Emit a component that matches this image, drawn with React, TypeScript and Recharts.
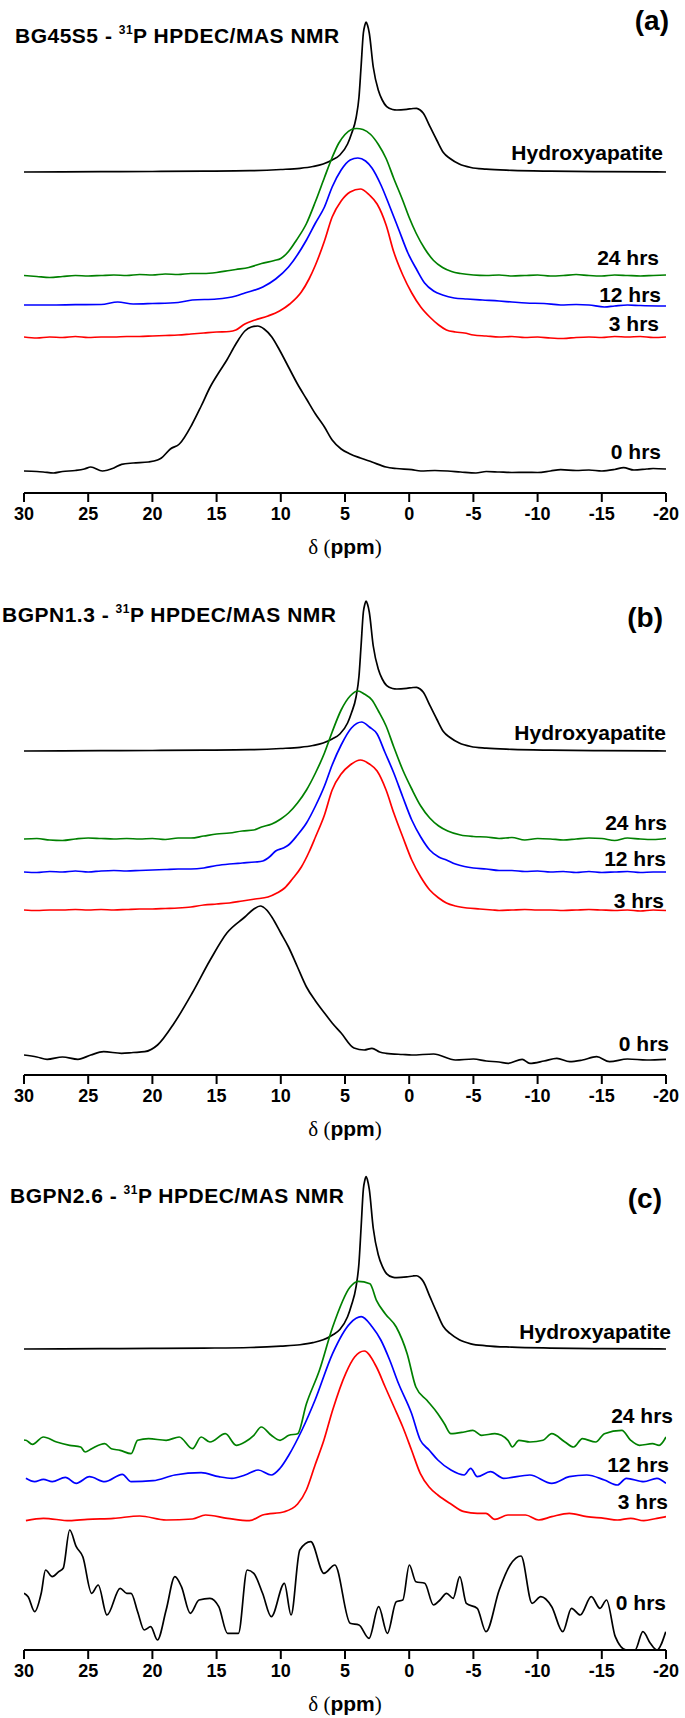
import { LineChart, Line, XAxis, YAxis } from 'recharts';

type Pt = [number, number]; // [ppm, intensity]

const ppmTicks = [30, 25, 20, 15, 10, 5, 0, -5, -10, -15, -20];
const panelTags = ['(a)', '(b)', '(c)'];
const sampleNames = ['BG45S5', 'BGPN1.3', 'BGPN2.6'];
const traceLabels = ['Hydroxyapatite', '24 hrs', '12 hrs', '3 hrs', '0 hrs'];

// reference hydroxyapatite spectrum (same in all three panels)
const hydroxyapatite: Pt[] = [
  [30, 0], [24, 0.3], [20, 0.5], [16, 0.8], [12.4, 1.3], [10, 2.5], [8.5, 3.7], [7.5, 5.5], [6.7, 8],
  [6, 12], [5.4, 17], [4.8, 28], [4.5, 38], [4.14, 54], [3.91, 75], [3.75, 105], [3.57, 139],
  [3.45, 147], [3.36, 150], [3.25, 147], [3.11, 139], [2.8, 105], [2.41, 82], [2.1, 72],
  [1.75, 65.3], [1.3, 62.5], [0.97, 62], [0.19, 62.7], [-0.3, 63.5], [-0.58, 63.7], [-0.85, 62],
  [-1.1, 58.7], [-1.62, 45.3], [-2.14, 32], [-2.66, 19.5], [-3.18, 13.5], [-3.9, 8], [-4.8, 4.5],
  [-6, 2.8], [-8, 1.6], [-11, 0.8], [-15, 0.3], [-20, 0],
];

// (a) BG45S5
const a24: Pt[] = [
  [30, 0], [29, -1], [28, -2], [27, -1], [26, 0], [25, -0.5], [24, 0], [23, 0.5], [22, 0], [21, 1],
  [20, 0.5], [19, 1.5], [18, 1], [17, 2], [16, 2], [15, 3], [14, 5], [13.5, 6], [12.5, 8], [11.5, 12],
  [10.5, 15], [10, 17], [9.4, 24], [8.8, 35], [8, 52], [7.3, 74], [6.6, 98], [6, 118], [5.5, 132],
  [5, 141], [4.5, 146], [4.1, 147], [3.6, 146], [3, 141], [2.4, 131], [1.8, 117], [1.2, 97],
  [0.5, 75], [0, 58], [-0.55, 42], [-1.2, 27], [-1.9, 15], [-2.6, 8], [-3.3, 4], [-4, 2], [-5, 0.5],
  [-6, 0], [-7, 0.5], [-8, -0.5], [-9, 0], [-10, 0.5], [-11, -0.5], [-12, 0], [-13, 1], [-14, 0],
  [-15, -0.5], [-16, 0.5], [-17, 0], [-18, -0.5], [-19, 0], [-20, 0.5],
];
const a12: Pt[] = [
  [30, 0], [28, 0], [26, 0.3], [24, 0.5], [22.7, 3], [21.5, 1], [20, 1.5], [18, 2.5], [16.9, 5],
  [15, 6], [13.5, 9], [12.8, 12], [11.4, 18], [10.4, 26], [9.4, 38], [8, 65], [7.3, 82], [6.6, 98],
  [6, 118], [5.3, 135], [4.6, 145], [4, 147], [3.4, 144], [2.9, 137], [2.2, 120], [1.5, 98],
  [0.8, 75], [0.1, 52], [-0.6, 35], [-1.2, 22], [-1.9, 14], [-2.6, 10], [-3.5, 7], [-4.5, 6],
  [-5.7, 5], [-7, 4], [-8, 3], [-9.1, 2], [-10.5, 1.5], [-11.8, 0], [-13, 0.5], [-14, 0],
  [-15.2, -2], [-16, -1], [-17, 0], [-18, -0.5], [-20, -1],
];
const a3: Pt[] = [
  [30, 0], [29, -1], [28, 0], [27, -0.5], [26, 0.5], [25, -0.5], [24, 0], [23, 0], [22, 0.5],
  [21, 0.5], [20, 1], [19, 1.5], [18, 2], [17, 3], [16, 4], [15, 5], [14, 5.5], [13.5, 7],
  [12.8, 13], [12, 17], [11, 21], [10.1, 26], [9.3, 33], [8.4, 45], [7.8, 58], [7.3, 72], [6.6, 96],
  [6, 120], [5.3, 136], [4.6, 145], [3.8, 148], [3.1, 142], [2.5, 133], [1.8, 112], [1.2, 85],
  [0.5, 62], [-0.2, 44], [-0.9, 30], [-1.6, 20], [-2.3, 12], [-2.9, 7], [-3.6, 5], [-4.3, 4],
  [-5, 2], [-6, 1], [-7, 0], [-8, 0.5], [-9, -0.5], [-10, 0], [-11, -1], [-12, -1.5], [-13, -0.5],
  [-14, 0], [-15, -0.5], [-16, 0.5], [-17, 0], [-18, 0.5], [-19, -0.5], [-20, 0],
];
const a0: Pt[] = [
  [30, 0], [29, -0.5], [28.5, -1], [27.7, -2], [27, -0.5], [26, 0.5], [25.3, 2], [24.8, 4],
  [23.9, 0], [23, 3], [22.4, 6.7], [21.5, 8], [20.3, 9], [19.6, 11], [19.3, 13], [18.6, 22],
  [17.9, 27], [16.9, 47], [16.2, 65], [15.5, 84], [14.8, 99], [14.2, 111], [13.5, 127], [12.8, 140],
  [12.3, 144], [11.8, 145], [11.3, 142], [10.7, 134], [10.1, 121], [9.4, 104], [8.7, 87], [8, 72],
  [7.3, 57], [6.6, 44], [6, 31], [5.3, 22], [4.6, 17], [3.8, 13], [2.9, 9], [1.8, 4], [1, 2.5],
  [-0.2, 1.3], [-0.9, 0], [-2, 0.5], [-3, 0], [-4, -1], [-5.2, -2], [-6, -0.5], [-7, -1],
  [-8, -1.5], [-9.1, -1.3], [-10, -1.5], [-11, 0], [-11.8, 1.3], [-13, 0.5], [-14, 1], [-15, 0],
  [-16, 1.5], [-16.7, 3.3], [-17.5, 1], [-18.5, 2], [-19, 2.5], [-20, 2],
];

// (b) BGPN1.3
const b24: Pt[] = [
  [30, 0], [29, 0.5], [28, -1], [27, -1.5], [26, 0], [25, 1], [24, 0.5], [23, 0], [22, 0.5], [21, 0],
  [20, 0.5], [19, -0.5], [18, 1], [17, 1], [16, 3], [15, 5], [14, 6], [13, 8], [12.1, 9], [11.5, 12],
  [10.7, 15], [10, 20], [9.4, 26], [8.7, 36], [8, 49], [7.3, 66], [6.6, 86], [6, 107], [5.3, 129],
  [4.6, 143], [4, 148], [3.5, 145], [2.9, 139], [2.4, 128], [1.8, 113], [1.2, 92], [0.5, 69],
  [-0.2, 50], [-0.9, 33], [-1.6, 21], [-2.3, 13], [-3, 8], [-4, 4], [-5, 2.5], [-6, 2], [-7, 0.5],
  [-8, 1.5], [-9, -1], [-10, 0.5], [-11, 0], [-12, -1], [-13, 0], [-14, 1], [-15, 0.5],
  [-16, -1.5], [-17, 1], [-18, 0], [-19, -0.5], [-20, 0.5],
];
const b12: Pt[] = [
  [30, 0], [29, -0.5], [28, 0.5], [27, 0], [26, 1], [25, 0], [24, 1], [23, 1.5], [22, 1], [21, 1.5],
  [20, 2], [19, 2.5], [18, 3], [17, 3], [16, 4], [15, 6.5], [14, 8], [13, 9], [12, 10], [11.4, 11],
  [10.8, 16], [10.4, 21], [9.8, 24], [9.4, 27], [8.7, 37], [8, 49], [7.3, 66], [6.6, 86], [6, 107],
  [5.3, 127], [4.5, 144], [3.7, 150], [3.1, 145], [2.5, 138], [1.9, 120], [1.2, 99], [0.5, 75],
  [-0.2, 52], [-0.9, 35], [-1.6, 22], [-2.3, 15], [-2.9, 12], [-3.6, 8], [-4.3, 5.5], [-5, 4],
  [-6, 3], [-7, 1.5], [-8, 1.5], [-9, 0.5], [-10, 1], [-11, 0], [-12, 0.5], [-13, -0.5],
  [-14, 0.5], [-15, -0.5], [-16, 0], [-17, 0.5], [-18, -0.5], [-19, 0], [-20, 0],
];
const b3: Pt[] = [
  [30, 0], [29, -0.5], [28, 0], [27, 0], [26, 0.5], [25, 0], [24, 0.5], [23, 0], [22, 0.5], [21, 1],
  [20, 1], [19, 1.5], [18, 2], [17, 3], [16, 5], [15, 6], [14, 7], [13, 9], [12, 11], [11, 13],
  [10.3, 17], [9.7, 22], [9.1, 31], [8.4, 43], [7.8, 58], [7.3, 73], [6.6, 95], [6, 120], [5.3, 136],
  [4.6, 145], [3.8, 150], [3.1, 146], [2.5, 139], [1.8, 120], [1.2, 97], [0.5, 73], [-0.2, 50],
  [-0.9, 33], [-1.6, 20], [-2.3, 12], [-2.9, 7], [-3.6, 4], [-4.5, 2], [-5.5, 1], [-6.5, 0],
  [-7, -0.5], [-8, 0], [-9, 0.5], [-10, 0], [-11, 0], [-12, -0.5], [-13, 0], [-14, 0.5], [-15, 0],
  [-16, -0.5], [-17, 0], [-18, -1], [-19, 0], [-20, -0.5],
];
const b0: Pt[] = [
  [30, 0], [29, -2], [28.2, -4.3], [27, -2], [25.8, -4.3], [24.8, 0], [23.8, 3.3], [22.4, 1.7],
  [21.5, 2.5], [20.6, 3.3], [19.6, 10], [18.3, 32], [16.9, 62], [15.5, 95], [14.2, 122], [12.8, 138],
  [12.1, 146], [11.6, 149], [11.1, 145], [10.7, 138], [10, 122], [9.4, 108], [8.7, 88], [8, 68],
  [7.3, 54], [6.6, 42], [6, 32], [5.3, 22], [4.3, 7], [3.5, 5], [2.9, 6.7], [2.3, 3], [1.8, 1.7],
  [0.5, 0.5], [-0.2, 0], [-1.9, 1], [-3.6, -5], [-5, -4], [-6, -6], [-7, -7], [-7.7, -8.3],
  [-8.8, -4.3], [-9.4, -8.3], [-10.5, -6], [-11.5, -3.3], [-12.5, -6.7], [-13.5, -5], [-14.6, -1.7],
  [-15.6, -6.7], [-17, -4], [-18.5, -5], [-20, -4.3],
];

// (c) BGPN2.6
const c24: Pt[] = [
  [30, 3], [29.85, 2.7], [29.34, -1.3], [28.49, 6], [27.46, 1], [26.44, -2.3], [25.59, -4],
  [25.24, -9], [24.73, -5.7], [23.71, -0.7], [23.2, -5.7], [22.51, -7.3], [21.66, -10.7],
  [21.15, 2.7], [20.3, 4.3], [18.93, 2.7], [17.91, 6], [16.88, -5.7], [16.2, 6], [15.52, 1],
  [14.32, 9.3], [13.47, -2.3], [12.79, 1], [12.1, 7.7], [11.52, 16], [10.74, 7.7], [10.06, 2.7],
  [9.37, 7.7], [8.69, 9.3], [8.01, 39], [6.99, 72.7], [5.96, 116], [4.6, 156], [3.98, 161.7],
  [3.06, 159.3], [2.55, 142.7], [1.87, 129.3], [1.01, 116], [0.16, 89.3], [-0.52, 56],
  [-1.38, 42.7], [-2.23, 29.3], [-2.74, 19.3], [-3.25, 9.3], [-4.28, 11], [-4.96, 12.7],
  [-5.64, 7.7], [-6.67, 9.3], [-7.69, 2.7], [-8.03, -4], [-8.54, 2.7], [-9.4, 1], [-10.42, 2.7],
  [-11.1, 9.3], [-12.13, 1], [-12.81, -4], [-13.49, 4.3], [-14.52, 1], [-15.2, 9.3], [-16.56, 12.7],
  [-17.25, 2.7], [-17.93, -2.3], [-18.95, -0.7], [-19.47, -2.3], [-20, 6],
];
const c12: Pt[] = [
  [29.85, 2.7], [29.17, -0.7], [28.49, 1.7], [27.8, -0.7], [26.78, 3.7], [25.93, -2.3], [24.9, 4.3],
  [23.71, -0.7], [22.34, 6.7], [21.66, -0.7], [19.95, 0.3], [18.25, 6], [16.2, 8.3], [14.83, 4.3],
  [13.81, 2.7], [12.79, 6], [11.76, 11], [10.74, 6], [10.06, 12.7], [9.37, 26], [8.35, 51],
  [7.33, 81], [5.96, 127.7], [4.6, 157.7], [3.74, 164.3], [2.89, 154.3], [2.21, 141], [1.52, 121],
  [0.84, 97.7], [-0.18, 67.7], [-0.86, 41], [-1.55, 31], [-2.23, 21], [-3.25, 11], [-4.28, 6],
  [-4.79, 12.7], [-5.3, 4.3], [-6.33, 9.3], [-7.35, 2.7], [-9.4, 6], [-11.1, -2.3], [-12.47, 4.3],
  [-13.83, 6], [-15.2, 1], [-16.22, -4], [-16.91, 2.7], [-18.27, -0.7], [-19.29, 2.7], [-20, -2.3],
];
const c3: Pt[] = [
  [29.85, -0.7], [28.49, 1.7], [26.44, -0.7], [25.07, 0.7], [23.03, 1.7], [20.98, 4], [18.93, 0],
  [16.88, 1], [15.86, 5], [14.15, 1.7], [12.45, -0.7], [11.42, 5], [9.72, 8.3], [8.69, 16],
  [8.01, 30], [7.33, 55], [6.64, 80], [5.96, 110], [4.94, 146.7], [4.25, 163], [3.5, 169],
  [2.55, 153], [1.87, 133], [1.18, 113], [0.5, 93], [-0.18, 70], [-0.86, 46.7], [-1.55, 33],
  [-2.23, 25], [-3.25, 16], [-4.28, 8.3], [-5.3, 6.7], [-5.98, 6.7], [-6.67, 0.7], [-7.69, 5],
  [-9.06, 5], [-10.08, 0], [-11.1, 3.3], [-12.47, 6.7], [-13.83, 3.3], [-15.2, 1.7], [-16.22, 0],
  [-17.25, 1.7], [-18.27, -0.7], [-19.29, 1.7], [-20, 3.3],
];
const c0: Pt[] = [
  [30, 56.7], [29.68, 53.3], [29.17, 38.3], [28.66, 56.7], [28.32, 80], [27.8, 73.3], [27.29, 78.3],
  [26.95, 81.7], [26.44, 120], [25.93, 103.3], [25.42, 93.3], [24.73, 56.7], [24.22, 65],
  [23.54, 35], [22.51, 61.7], [22, 56.7], [21.66, 56.7], [21.15, 38.3], [20.64, 20], [20.13, 23.3],
  [19.61, 10], [18.93, 40], [18.25, 73.3], [17.74, 63.3], [17.05, 36.7], [16.37, 50], [15.52, 51.7],
  [14.83, 43.3], [14.15, 16.7], [13.3, 16.7], [12.62, 80], [12.1, 76.7], [11.42, 56.7], [10.74, 33.3],
  [9.72, 66.7], [9.2, 35], [8.52, 100], [7.67, 108.3], [6.64, 76.7], [5.79, 85], [4.6, 26.7],
  [3.91, 25], [3.13, 11.7], [2.38, 43.3], [1.7, 16.7], [1.01, 48.3], [0.5, 50], [-0.01, 85],
  [-0.52, 68.3], [-1.21, 66.7], [-1.89, 45], [-2.4, 50], [-2.91, 56.7], [-3.42, 51.7], [-3.94, 73.3],
  [-4.45, 46.7], [-5.3, 41.7], [-5.98, 18.3], [-7.01, 60], [-7.86, 85], [-8.71, 94], [-9.57, 46.7],
  [-10.25, 53.3], [-11.1, 43.3], [-11.96, 18.3], [-12.64, 41.7], [-13.32, 35], [-14.18, 53.3],
  [-14.86, 41.7], [-15.37, 50], [-16.05, 13.3], [-16.91, 0], [-17.59, 0], [-18.2, 18.3],
  [-18.78, 6.7], [-19.29, 0], [-19.98, 18.3],
];

const COLORS = { black: '#000000', green: '#008000', blue: '#0000ff', red: '#ff0000' };
const SANS = "'Liberation Sans', Arial, Helvetica, sans-serif";
const SERIF = "'Liberation Serif', 'Times New Roman', serif";

interface Trace { pts: Pt[]; color: string; offset: number; scale?: number }
interface TextMark { text: string; right: number; cy: number }
interface Panel {
  top: number;
  axisY: number;
  titleX: number;
  titleY: number;
  tagRight: number;
  tagY: number;
  traces: Trace[];
  labels: TextMark[];
}

const panels: Panel[] = [
  {
    top: 0, axisY: 493, titleX: 15, titleY: 35, tagRight: 669, tagY: 20,
    traces: [
      { pts: hydroxyapatite, color: COLORS.black, offset: 321 },
      { pts: a24, color: COLORS.green, offset: 217.5 },
      { pts: a12, color: COLORS.blue, offset: 188 },
      { pts: a3, color: COLORS.red, offset: 156 },
      { pts: a0, color: COLORS.black, offset: 22 },
    ],
    labels: [
      { text: traceLabels[0], right: 663, cy: 152 },
      { text: traceLabels[1], right: 659, cy: 257 },
      { text: traceLabels[2], right: 661, cy: 294 },
      { text: traceLabels[3], right: 659, cy: 323 },
      { text: traceLabels[4], right: 661, cy: 451 },
    ],
  },
  {
    top: 580, axisY: 1075, titleX: 2, titleY: 614, tagRight: 663, tagY: 617,
    traces: [
      { pts: hydroxyapatite, color: COLORS.black, offset: 324 },
      { pts: b24, color: COLORS.green, offset: 236 },
      { pts: b12, color: COLORS.blue, offset: 203 },
      { pts: b3, color: COLORS.red, offset: 165 },
      { pts: b0, color: COLORS.black, offset: 20 },
    ],
    labels: [
      { text: traceLabels[0], right: 666, cy: 732 },
      { text: traceLabels[1], right: 667, cy: 822 },
      { text: traceLabels[2], right: 666, cy: 858 },
      { text: traceLabels[3], right: 664, cy: 900 },
      { text: traceLabels[4], right: 669, cy: 1043 },
    ],
  },
  {
    top: 1160, axisY: 1650, titleX: 10, titleY: 1195, tagRight: 662, tagY: 1198,
    traces: [
      { pts: hydroxyapatite, color: COLORS.black, offset: 301, scale: 1.15 },
      { pts: c24, color: COLORS.green, offset: 207 },
      { pts: c12, color: COLORS.blue, offset: 169 },
      { pts: c3, color: COLORS.red, offset: 130 },
      { pts: c0, color: COLORS.black, offset: 0 },
    ],
    labels: [
      { text: traceLabels[0], right: 671, cy: 1331 },
      { text: traceLabels[1], right: 673, cy: 1415 },
      { text: traceLabels[2], right: 669, cy: 1464 },
      { text: traceLabels[3], right: 668, cy: 1501 },
      { text: traceLabels[4], right: 666, cy: 1602 },
    ],
  },
];

const AXIS_H = 66;

function toSeries(t: Trace) {
  const k = t.scale ?? 1;
  return t.pts.map(([ppm, h]) => ({ ppm, v: t.offset + h * k }));
}

function SpectrumPanel({ panel }: { panel: Panel }) {
  const plotH = panel.axisY - panel.top;
  return (
    <div style={{ position: 'absolute', left: 0, top: panel.top }}>
      <LineChart width={685} height={plotH + AXIS_H} margin={{ top: 0, right: 19, bottom: 0, left: 24 }}>
        <XAxis
          type="number"
          dataKey="ppm"
          domain={[-20, 30]}
          reversed
          allowDataOverflow
          ticks={ppmTicks}
          interval={0}
          height={AXIS_H}
          tickSize={9}
          tickMargin={5}
          axisLine={{ stroke: '#000', strokeWidth: 2 }}
          tickLine={{ stroke: '#000', strokeWidth: 2 }}
          tick={{ fill: '#000', fontSize: 18, fontWeight: 'bold', fontFamily: SANS }}
        />
        <YAxis hide type="number" domain={[0, plotH]} allowDataOverflow />
        {panel.traces.map((t, i) => (
          <Line
            key={i}
            data={toSeries(t)}
            dataKey="v"
            type="monotone"
            stroke={t.color}
            strokeWidth={1.7}
            dot={false}
            activeDot={false}
            isAnimationActive={false}
          />
        ))}
      </LineChart>
    </div>
  );
}

function PanelText({ panel, idx }: { panel: Panel; idx: number }) {
  const fs = 21;
  return (
    <g fontFamily={SANS} fontWeight="bold" fill="#000">
      <text x={panel.titleX} y={panel.titleY + 0.36 * fs} fontSize={fs} letterSpacing={0.5}>
        {sampleNames[idx] + ' - '}
        <tspan fontSize={12} dy={-9}>31</tspan>
        <tspan dy={9}>P HPDEC/MAS NMR</tspan>
      </text>
      <text x={panel.tagRight} y={panel.tagY + 10} fontSize={28} textAnchor="end">
        {panelTags[idx]}
      </text>
      {panel.labels.map((l) => (
        <text key={l.text} x={l.right} y={l.cy + 7.5} fontSize={21} textAnchor="end">
          {l.text}
        </text>
      ))}
      <text x={345} y={panel.axisY + 54 + 7} fontSize={21} textAnchor="middle">
        <tspan fontFamily={SERIF} fontWeight="normal">δ (</tspan>
        <tspan>ppm</tspan>
        <tspan fontFamily={SERIF} fontWeight="normal">)</tspan>
      </text>
    </g>
  );
}

export default function App() {
  return (
    <div style={{ position: 'absolute', left: 0, top: 0, width: 685, height: 1718, background: '#fff', overflow: 'hidden' }}>
      {panels.map((p, i) => (
        <SpectrumPanel key={i} panel={p} />
      ))}
      <svg width={685} height={1718} style={{ position: 'absolute', left: 0, top: 0, pointerEvents: 'none' }}>
        {panels.map((p, i) => (
          <PanelText key={i} panel={p} idx={i} />
        ))}
      </svg>
    </div>
  );
}
